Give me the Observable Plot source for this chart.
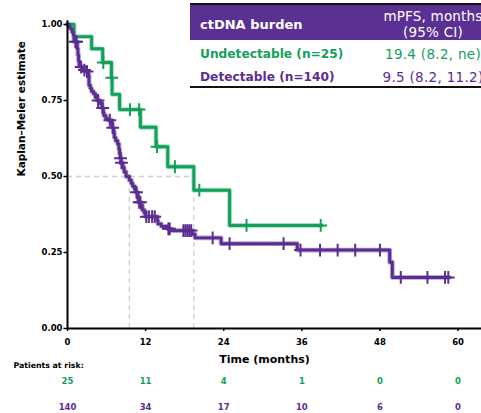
<!DOCTYPE html>
<html>
<head>
<meta charset="utf-8">
<script src="https://cdn.jsdelivr.net/npm/d3@7"></script>
<script src="https://cdn.jsdelivr.net/npm/@observablehq/plot@0.6"></script>
<style>
  html, body { margin: 0; padding: 0; background: #fff; }
  #wrap { position: relative; width: 481px; height: 413px; overflow: hidden; font-family: "DejaVu Sans", Verdana, sans-serif; }
  #chart { position: absolute; left: 0; top: 0; }
  #title { position: absolute; left: 10px; top: -19px; font-size: 22px; line-height: 22px; font-weight: bold; color: #111; white-space: nowrap; }
  .abs { position: absolute; white-space: nowrap; }
</style>
</head>
<body>
<div id="wrap">
  <div id="chart"></div>
  <div id="title">mPFS</div>
  <div id="tbl"></div>
</div>
<script>
// ---------- data ----------
const months = [0, 12, 24, 36, 48, 60];
const riskUndetectable = [25, 11, 4, 1, 0, 0];
const riskDetectable = [140, 34, 17, 10, 6, 0];

const undetTime = [0, 1.0, 3.7, 5.4, 6.75, 6.85, 8.0, 11.2, 13.6, 15.4, 19.4, 24.9, 39.1];
const undetSurv = [1, 0.96, 0.92, 0.875, 0.825, 0.77, 0.72, 0.662, 0.598, 0.532, 0.455, 0.339, 0.339];
const undetCensor = [5.5, 6.8, 9.6, 11.0, 13.75, 16.5, 20.25, 27.5, 38.9];

const detTime = [0, 0.3, 0.5, 0.7, 0.9, 1.0, 1.1, 1.5, 1.6, 1.7, 1.8, 2.0, 2.5, 2.9, 3.2, 3.3, 3.5, 3.7, 4.0, 4.3, 4.6, 5.0, 5.3, 5.5, 5.6, 5.9, 6.3, 6.8, 6.9, 7.1, 7.2, 7.4, 7.7, 7.9, 8.0, 8.1, 8.2, 8.5, 8.7, 9.0, 9.5, 9.8, 10.0, 10.3, 10.5, 10.8, 10.9, 11.3, 11.5, 11.8, 12.0, 13.8, 13.9, 14.4, 15.4, 15.9, 19.2, 19.6, 23.6, 35.3, 49.5, 49.9, 58.6];
const detSurv = [1, 0.99, 0.985, 0.975, 0.965, 0.95, 0.943, 0.92, 0.9, 0.88, 0.865, 0.86, 0.85, 0.845, 0.835, 0.80, 0.79, 0.78, 0.772, 0.76, 0.75, 0.74, 0.725, 0.71, 0.70, 0.69, 0.685, 0.675, 0.66, 0.645, 0.628, 0.618, 0.607, 0.59, 0.575, 0.56, 0.545, 0.53, 0.515, 0.50, 0.488, 0.478, 0.468, 0.458, 0.448, 0.435, 0.415, 0.405, 0.39, 0.38, 0.368, 0.355, 0.344, 0.336, 0.328, 0.322, 0.31, 0.298, 0.279, 0.258, 0.218, 0.168, 0.168];
const detCensor = [1.2, 1.4, 2.1, 2.6, 3.0, 4.7, 5.4, 6.5, 6.95, 8.15, 8.3, 10.6, 11.0, 11.2, 12.1, 12.5, 13.0, 13.4, 15.5, 15.7, 17.8, 18.1, 18.4, 18.7, 19.0, 22.3, 24.9, 33.2, 35.8, 38.8, 41.5, 44.2, 48.0, 51.2, 55.3, 58.0, 58.5];

const medians = [19.4, 9.5];
const groupLabels = ["Undetectable (n=25)", "Detectable (n=140)"];
const mpfsLabels = ["19.4 (8.2, ne)", "9.5 (8.2, 11.2)"];
const yTicks = [0, 0.25, 0.5, 0.75, 1];

const GREEN = "#12a05b";
const PURPLE = "#5b2d91";
const GREEN_HALO = "#a7dcbf";
const PURPLE_HALO = "#b4a5d2";

// ---------- tables built from arrays ----------
const undet = undetTime.map((t, i) => ({t, s: undetSurv[i]}));
const det = detTime.map((t, i) => ({t, s: detSurv[i]}));
function lookup(times, surv, t) {
  let s = surv[0];
  for (let i = 0; i < times.length; i++) if (times[i] <= t) s = surv[i];
  return s;
}
const undetC = undetCensor.map(t => ({t, s: lookup(undetTime, undetSurv, t)}));
const detC = detCensor.map(t => ({t, s: lookup(detTime, detSurv, t)}));
const riskU = months.map((m, i) => ({m, n: riskUndetectable[i]}));
const riskD = months.map((m, i) => ({m, n: riskDetectable[i]}));

const chart = Plot.plot({
  width: 481,
  height: 413,
  marginLeft: 67,
  marginRight: 0,
  marginTop: 24,
  marginBottom: 85,
  x: {domain: [0, 63.6], label: null},
  y: {domain: [0, 1], label: null},
  style: {fontFamily: "DejaVu Sans", fontWeight: "bold", background: "white", color: "black", overflow: "visible"},
  marks: [
    // median reference lines
    Plot.ruleY([0.5], {x1: 0, x2: medians[0], stroke: "#d0d0d0", strokeWidth: 1.3, strokeDasharray: "5,4"}),
    Plot.ruleX(medians, {y1: 0, y2: 0.5, stroke: "#d0d0d0", strokeWidth: 1.3, strokeDasharray: "5,4"}),
    // halos
    Plot.line(undet, {x: "t", y: "s", curve: "step-after", stroke: GREEN_HALO, strokeWidth: 4.8}),
    Plot.line(det, {x: "t", y: "s", curve: "step-after", stroke: PURPLE_HALO, strokeWidth: 4.8}),
    // curves
    Plot.line(undet, {x: "t", y: "s", curve: "step-after", stroke: GREEN, strokeWidth: 2.9}),
    Plot.line(det, {x: "t", y: "s", curve: "step-after", stroke: PURPLE, strokeWidth: 2.9}),
    // censor marks
    Plot.dot(undetC, {x: "t", y: "s", symbol: "plus", r: 4.2, stroke: GREEN, strokeWidth: 2}),
    Plot.dot(detC, {x: "t", y: "s", symbol: "plus", r: 4.2, stroke: PURPLE, strokeWidth: 2}),
    // axes
    Plot.axisY({ticks: yTicks, tickFormat: d3.format(".2f"), tickSize: 3.5, tickPadding: 1.5, fontSize: 8.5, strokeWidth: 1.5, label: null}),
    Plot.axisX({ticks: months, tickFormat: d => String(d), tickSize: 3, tickPadding: 7, fontSize: 8.5, strokeWidth: 1.5, label: null}),
    Plot.ruleY([0], {stroke: "black", strokeWidth: 2}),
    Plot.ruleX([0], {y1: 0, y2: 1.012, stroke: "black", strokeWidth: 2}),
    // axis titles
    Plot.text(["Kaplan\u2013Meier estimate"], {frameAnchor: "left", dx: -46, rotate: -90, fontSize: 10.5, fill: "black"}),
    Plot.text(["Time (months)"], {frameAnchor: "bottom", dx: -10, dy: 34, fontSize: 11, fill: "black"}),
    Plot.text(["Patients at risk:"], {frameAnchor: "bottom-left", textAnchor: "start", dx: -54, dy: 39, fontSize: 7.8, fill: "black"}),
    // risk table
    Plot.text(riskU, {x: "m", text: "n", frameAnchor: "bottom", dy: 55.5, fontSize: 8.5, fill: GREEN}),
    Plot.text(riskD, {x: "m", text: "n", frameAnchor: "bottom", dy: 81, fontSize: 8.5, fill: PURPLE})
  ]
});
document.getElementById("chart").appendChild(chart);

// ---------- legend table (HTML overlay) ----------
const tbl = document.getElementById("tbl");
function add(html, css) {
  const d = document.createElement("div");
  d.className = "abs";
  d.innerHTML = html;
  Object.assign(d.style, css);
  tbl.appendChild(d);
  return d;
}
add("", {left: "190px", top: "5px", width: "300px", height: "83px", background: "#fff"});
add("", {left: "190px", top: "2.7px", width: "300px", height: "2.6px", background: "#111"});
add("", {left: "190px", top: "5.3px", width: "300px", height: "34.7px", background: "#5a3192"});
add("", {left: "190px", top: "86.3px", width: "300px", height: "2px", background: "#111"});
add("ctDNA burden", {left: "200px", top: "15px", lineHeight: "20px", fontSize: "13px", fontWeight: "bold", color: "#fff"});
add("mPFS, months<br>(95% CI)", {left: "373px", width: "120px", textAlign: "center", top: "8px", lineHeight: "16px", fontSize: "13.5px", color: "#fff", letterSpacing: "0.2px"});
const rowY = [53.5, 77];
const rowColors = [GREEN, PURPLE];
groupLabels.forEach((g, i) => {
  add(g, {left: "200px", top: (rowY[i] - 10) + "px", lineHeight: "20px", fontSize: "12.2px", fontWeight: "bold", color: rowColors[i]});
  add(mpfsLabels[i], {left: "373px", width: "120px", textAlign: "center", top: (rowY[i] - 10) + "px", lineHeight: "20px", fontSize: "13.5px", color: rowColors[i], letterSpacing: "0.3px"});
});
</script>
</body>
</html>
